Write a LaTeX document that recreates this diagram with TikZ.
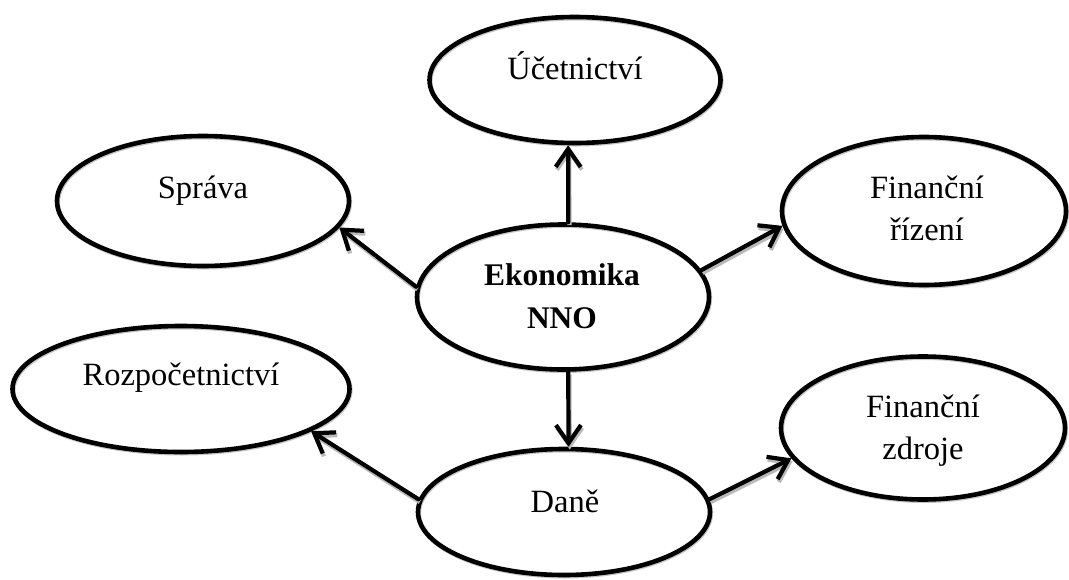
\documentclass[tikz,border=0pt]{standalone}
\usepackage{fontspec}
\setmainfont{Liberation Serif}
\usetikzlibrary{arrows.meta,shapes.geometric}
\begin{document}
\begin{tikzpicture}[x=1pt,y=-1pt,
  bub/.style={ellipse, draw=black, line width=4.6pt, inner sep=0pt,
    preaction={draw=gray!45, line width=4.6pt, transform canvas={shift={(0.8pt,-1.2pt)}}}},
  lbl/.style={anchor=base, inner sep=0pt, font=\fontsize{32.5}{40}\selectfont},
  conn/.style={line width=4.2pt, line cap=round, line join=round,
    -{Straight Barb[length=18pt,width=25pt,line width=4.2pt]},
    preaction={draw=gray!55, line width=4.2pt, transform canvas={shift={(1.2pt,-2.8pt)}}}}
]
\useasboundingbox (0,0) rectangle (1069,579);
% ellipses
\node[bub, minimum width=291pt, minimum height=126pt] (ucet) at (575,80) {};
\node[bub, minimum width=292pt, minimum height=130pt] (sprava) at (203,201) {};
\node[bub, minimum width=284pt, minimum height=148pt] (finr) at (924,211) {};
\node[bub, minimum width=292pt, minimum height=145pt] (eko) at (563,297) {};
\node[bub, minimum width=337pt, minimum height=126pt] (rozp) at (181,389) {};
\node[bub, minimum width=284pt, minimum height=143pt] (finz) at (923,428) {};
\node[bub, minimum width=292pt, minimum height=126pt] (dane) at (564,512) {};
% texts
\node[lbl] (t-ucet) at (575,79) {Účetnictví};
\node[lbl] (t-sprava) at (203,198) {Správa};
\node[lbl] (t-finr1) at (927,198) {Finanční};
\node[lbl] (t-finr2) at (927,240) {řízení};
\node[lbl, font=\fontsize{31.5}{40}\selectfont\bfseries] (t-eko1) at (562,285) {Ekonomika};
\node[lbl, font=\fontsize{31.5}{40}\selectfont\bfseries] (t-eko2) at (562,328) {NNO};
\node[lbl] (t-rozp) at (181,385) {Rozpočetnictví};
\node[lbl] (t-finz1) at (923,417) {Finanční};
\node[lbl] (t-finz2) at (923,459) {zdroje};
\node[lbl] (t-dane) at (565,512) {Daně};
% connectors
\draw[conn] (eko.86) -- (ucet.-96.4);
\draw[conn] (eko.176.5) -- (sprava.-11);
\draw[conn] (eko.11) -- (finr.186);
\draw[conn] (eko.-86) -- (dane.86.4);
\draw[conn] (dane.175) -- (rozp.-18);
\draw[conn] (dane.5) -- (finz.193);
\end{tikzpicture}
\end{document}
